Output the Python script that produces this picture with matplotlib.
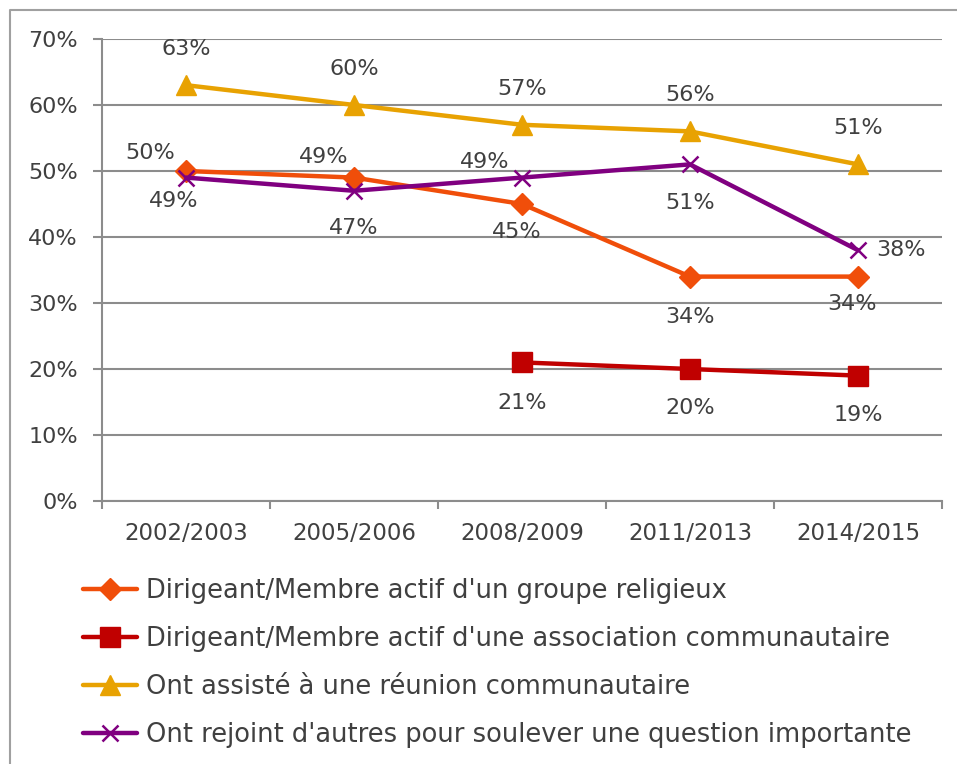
import numpy as np
import matplotlib
matplotlib.use("Agg")
import matplotlib.pyplot as plt
from matplotlib.lines import Line2D
from matplotlib.ticker import FixedLocator, PercentFormatter

# data (percent)
periods = ["2002/2003", "2005/2006", "2008/2009", "2011/2013", "2014/2015"]
religieux = [50, 49, 45, 34, 34]
association = [np.nan, np.nan, 21, 20, 19]
reunion = [63, 60, 57, 56, 51]
rejoint = [49, 47, 49, 51, 38]

labels = [
    "Dirigeant/Membre actif d'un groupe religieux",
    "Dirigeant/Membre actif d'une association communautaire",
    "Ont assisté à une réunion communautaire",
    "Ont rejoint d'autres pour soulever une question importante",
]

# style per series: colour, marker, marker size, label offsets (pt)
styles = [
    ("#F04E0A", "D", 11, [(-26, 13), (-22, 15), (-4, -20), (0, -29), (-4, -20)]),
    ("#C00000", "s", 14, [(0, -29), (0, -28), (0, -28)]),
    ("#E8A202", "^", 15, [(0, 26), (0, 26), (0, 26), (0, 26), (0, 26)]),
    ("#800080", "x", 12, [(-9, -17), (0, -27), (-27, 11), (0, -28), (31, 0)]),
]

text_col = "#404040"
grid_col = "#8C8C8C"
plt.rcParams["font.family"] = ["DejaVu Sans"]

fig = plt.figure(figsize=(9.57, 7.64), dpi=100)
ax = fig.add_axes([0.1066, 0.3442, 0.8777, 0.6048])

# outer chart border: only the left and top edges are inside the picture
bx, by = 10 / 957, 1 - 10 / 764
fig.add_artist(Line2D([bx, bx, 1.0], [0.0, by, by], transform=fig.transFigure,
                      color="#A0A0A0", linewidth=1.5, solid_capstyle="butt"))

x = np.arange(len(periods))
series = [religieux, association, reunion, rejoint]
for vals, lab, (col, mk, ms, offs) in zip(series, labels, styles):
    kw = dict(markeredgewidth=1.8) if mk == "x" else dict(markeredgecolor=col)
    ax.plot(x, vals, color=col, linewidth=3.2, marker=mk, markersize=ms,
            label=lab, solid_capstyle="round", zorder=3, **kw)
    pts = [(xi, v) for xi, v in zip(x, vals) if not np.isnan(v)]
    for (xi, v), (dx, dy) in zip(pts, offs):
        ax.annotate(f"{v:.0f}%", (xi, v), xytext=(dx, dy),
                    textcoords="offset points", ha="center", va="center",
                    fontsize=16, color=text_col, zorder=4)

ax.set_xlim(-0.5, len(periods) - 0.5)
ax.set_ylim(0, 70)
ax.yaxis.set_major_locator(FixedLocator(range(0, 71, 10)))
ax.yaxis.set_major_formatter(PercentFormatter(decimals=0))
ax.set_xticks(x)
ax.set_xticklabels(periods)
ax.set_xticks(np.arange(-0.5, len(periods)), minor=True)
ax.tick_params(axis="x", which="major", length=0, pad=15, labelsize=16.5,
               labelcolor=text_col)
ax.tick_params(axis="x", which="minor", length=6, width=1.5, color=grid_col,
               direction="out")
ax.tick_params(axis="y", length=6.5, width=1.5, color=grid_col, pad=11,
               labelsize=16, labelcolor=text_col)

ax.grid(axis="y", color=grid_col, linewidth=1.5)
ax.set_axisbelow(True)
for s in ["top", "right"]:
    ax.spines[s].set_visible(False)
for s in ["left", "bottom"]:
    ax.spines[s].set_color(grid_col)
    ax.spines[s].set_linewidth(1.5)

fig.legend(loc="upper left", bbox_to_anchor=(83 / 957, 1 - 578 / 764),
           frameon=False, fontsize=18.5, handlelength=2.1, handletextpad=0.35,
           labelspacing=0.86, borderpad=0, borderaxespad=0,
           labelcolor=text_col)

fig.savefig("out.png", dpi=100)
